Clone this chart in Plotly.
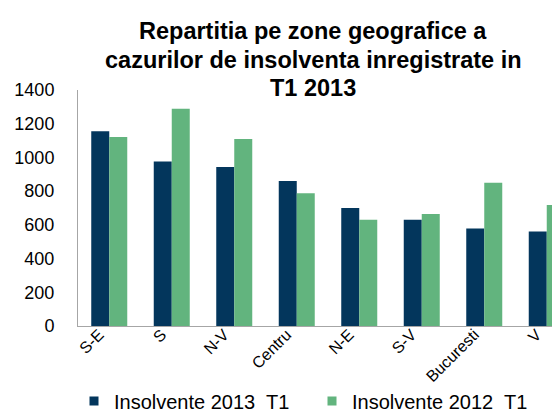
import plotly.graph_objects as go

categories = ["S-E", "S", "N-V", "Centru", "N-E", "S-V", "Bucuresti", "V"]
insolvente_2013_t1 = [1155, 976, 943, 860, 700, 631, 579, 561]
insolvente_2012_t1 = [1121, 1289, 1109, 787, 631, 664, 850, 718]
y_ticks = [0, 200, 400, 600, 800, 1000, 1200, 1400]
series_names = ["Insolvente 2013\u00a0 T1", "Insolvente 2012\u00a0 T1"]
series_colors = ["#03365C", "#62B47E"]
title_lines = ["Repartitia pe zone geografice a",
               "cazurilor de insolventa inregistrate in",
               "T1 2013"]

FONT = "Liberation Sans, Arial, sans-serif"
W, H = 560, 412
L, T, B = 70, 82, 94
PH = H - T - B
PW = W - L

fig = go.Figure()
for vals, name, col in zip([insolvente_2013_t1, insolvente_2012_t1], series_names, series_colors):
    fig.add_trace(go.Bar(x=categories, y=vals, name=name, showlegend=False,
                         marker=dict(color=col, line=dict(width=0))))
# legend entries (small square keys like the original)
for i, (name, col) in enumerate(zip(series_names, series_colors)):
    fig.add_trace(go.Scatter(x=[None], y=[None], mode="markers", name=name,
                             legend="legend" if i == 0 else "legend2",
                             marker=dict(symbol="square", size=9, color=col)))

for line, yc in zip(title_lines, [23, 52, 80]):
    fig.add_annotation(
        text="<b>" + line + "</b>",
        xref="paper", yref="paper",
        x=(305 - L) / PW, y=1 + (T - yc) / PH,
        xanchor="center", yanchor="middle", showarrow=False,
        font=dict(family=FONT, size=23.5, color="#000000"))

leg_common = dict(orientation="h", xref="container", yref="container",
                  xanchor="left", y=(H - 393) / H, yanchor="middle",
                  font=dict(family=FONT, size=20, color="#000000"),
                  itemwidth=30, bgcolor="rgba(0,0,0,0)",
                  borderwidth=0, tracegroupgap=0)

fig.update_layout(
    width=W, height=H,
    margin=dict(l=L, r=0, t=T, b=B, autoexpand=False),
    paper_bgcolor="white", plot_bgcolor="white",
    barmode="group", bargap=0.424, bargroupgap=0,
    font=dict(family=FONT, color="#000000", size=18),
    showlegend=True,
    legend=dict(x=66 / W, **leg_common),
    legend2=dict(x=304 / W, **leg_common),
    xaxis=dict(range=[-0.5, 7.34], showgrid=False, showline=True, linecolor="#A6A6A6",
               linewidth=1, ticks="", tickangle=-45, automargin=False,
               ticklabelshift=-10, ticklabelstandoff=-8,
               tickfont=dict(family=FONT, size=16, color="#000000")),
    yaxis=dict(range=[0, 1400], tickvals=y_ticks, showgrid=False, showline=True,
               linecolor="#A6A6A6", linewidth=1, ticks="", zeroline=False,
               ticklabelstandoff=19, automargin=False,
               tickfont=dict(family=FONT, size=18, color="#000000")),
)

fig.write_html("out.html")
